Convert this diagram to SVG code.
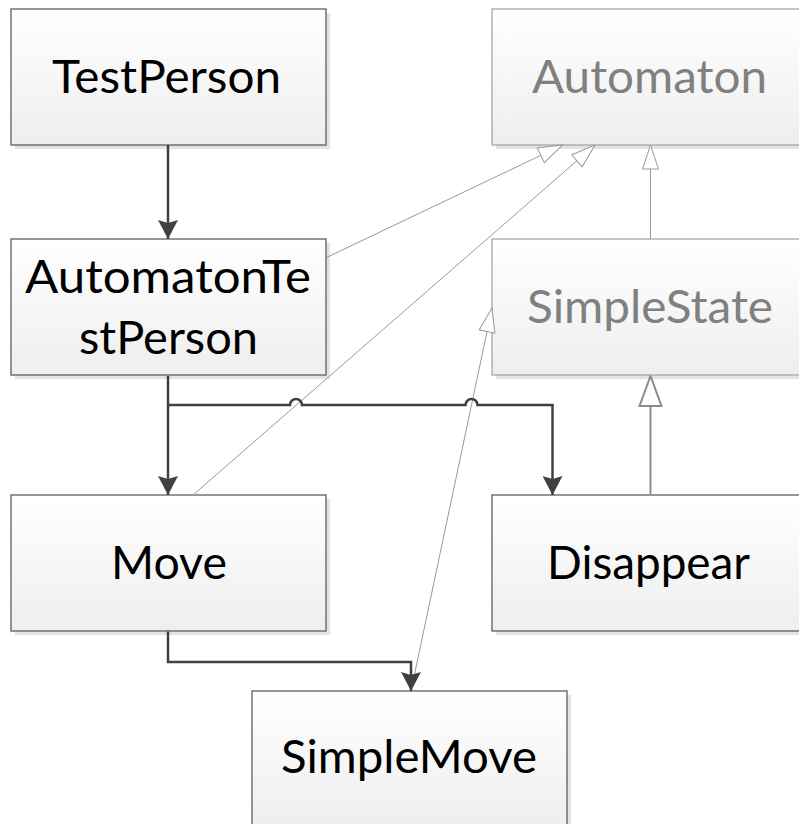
<svg xmlns="http://www.w3.org/2000/svg" width="799" height="824" viewBox="0 0 799 824">
  <defs>
    <linearGradient id="boxFill" x1="0" y1="0" x2="0" y2="1">
      <stop offset="0" stop-color="#ffffff"/>
      <stop offset="1" stop-color="#eeeeee"/>
    </linearGradient>
    <!-- solid arrowhead for association links -->
    <marker id="arrowSolid" viewBox="0 0 19 20" markerWidth="19" markerHeight="20" refX="19" refY="10" orient="auto" markerUnits="userSpaceOnUse">
      <path d="M0,0 L19,10 L0,20 L3,10 Z" fill="#404040"/>
    </marker>
    <!-- hollow triangle for generalization links -->
    <marker id="arrowHollow" viewBox="-1 -1 26 18" markerWidth="26" markerHeight="18" refX="24" refY="8" orient="auto" markerUnits="userSpaceOnUse">
      <path d="M0,0 L24,8 L0,16 Z" fill="#ffffff" stroke="#999999" stroke-width="1"/>
    </marker>
    <marker id="arrowHollowBig" viewBox="-1.5 -1.5 33 25" markerWidth="33" markerHeight="25" refX="30" refY="11" orient="auto" markerUnits="userSpaceOnUse">
      <path d="M0,0 L30,11 L0,22 Z" fill="#ffffff" stroke="#8c8c8c" stroke-width="2"/>
    </marker>
  </defs>
  <style>
    .shadow { fill: #e3e3e3; }
    .box { fill: url(#boxFill); stroke: #5f5f5f; stroke-width: 1.3; }
    .box.faded { stroke: #a6a6a6; }
    .label { font-family: Lato, "Open Sans", "Liberation Sans", sans-serif; font-size: 46px; fill: #000000; text-anchor: middle; }
    .label.faded { fill: #808080; }
    .assoc { fill: none; stroke: #404040; stroke-width: 2.5; }
    .gen { fill: none; stroke: #999999; stroke-width: 1; }
    .gen.strong { stroke: #8c8c8c; stroke-width: 2; }
  </style>

  <g id="TestPerson">
    <rect class="shadow" x="15" y="13" width="315" height="136"/>
    <rect class="box" x="11" y="9" width="315" height="136"/>
    <text class="label" x="166.5" y="93" textLength="229" lengthAdjust="spacingAndGlyphs">TestPerson</text>
  </g>

  <g id="Automaton">
    <rect class="shadow" x="496" y="13" width="315" height="136"/>
    <rect class="box faded" x="492" y="9" width="315" height="136"/>
    <text class="label faded" x="649.5" y="93" textLength="235" lengthAdjust="spacingAndGlyphs">Automaton</text>
  </g>

  <g id="AutomatonTestPerson">
    <rect class="shadow" x="15" y="243" width="315" height="136"/>
    <rect class="box" x="11" y="239" width="315" height="136"/>
    <text class="label" x="168" y="293" textLength="286" lengthAdjust="spacingAndGlyphs">AutomatonTe</text>
    <text class="label" x="168.5" y="353.5" textLength="179" lengthAdjust="spacingAndGlyphs">stPerson</text>
  </g>

  <g id="SimpleState">
    <rect class="shadow" x="496" y="243" width="315" height="136"/>
    <rect class="box faded" x="492" y="239" width="315" height="136"/>
    <text class="label faded" x="650" y="323" textLength="246" lengthAdjust="spacingAndGlyphs">SimpleState</text>
  </g>

  <g id="Move">
    <rect class="shadow" x="15" y="499" width="315" height="136"/>
    <rect class="box" x="11" y="495" width="315" height="136"/>
    <text class="label" x="169" y="578.5" textLength="116" lengthAdjust="spacingAndGlyphs">Move</text>
  </g>

  <g id="Disappear">
    <rect class="shadow" x="496" y="499" width="315" height="136"/>
    <rect class="box" x="492" y="495" width="315" height="136"/>
    <text class="label" x="648.5" y="579" textLength="203" lengthAdjust="spacingAndGlyphs">Disappear</text>
  </g>

  <g id="SimpleMove">
    <rect class="shadow" x="256" y="695" width="315" height="136"/>
    <rect class="box" x="252" y="691" width="315" height="136"/>
    <text class="label" x="409" y="773" textLength="256" lengthAdjust="spacingAndGlyphs">SimpleMove</text>
  </g>

  <g id="connectors">
    <!-- generalizations -->
    <path class="gen" d="M326.5,257.5 L562.5,145" marker-end="url(#arrowHollow)"/>
    <path class="gen" d="M193,495 L595,145" marker-end="url(#arrowHollow)"/>
    <path class="gen" d="M650.5,239 V145" marker-end="url(#arrowHollow)"/>
    <path class="gen" d="M411,691 L492,308" marker-end="url(#arrowHollow)"/>
    <path class="gen strong" d="M650.5,495 V376" marker-end="url(#arrowHollowBig)"/>
    <!-- associations -->
    <path class="assoc" d="M168,145 V239" marker-end="url(#arrowSolid)"/>
    <path class="assoc" d="M168,376 V495" marker-end="url(#arrowSolid)"/>
    <path class="assoc" d="M168,405 H290 A6,6 0 0 1 302,405 H465.5 A6,6 0 0 1 477.5,405 H552.5 V495" marker-end="url(#arrowSolid)"/>
    <path class="assoc" d="M168,631.5 V662 H411 V691" marker-end="url(#arrowSolid)"/>
  </g>
</svg>
